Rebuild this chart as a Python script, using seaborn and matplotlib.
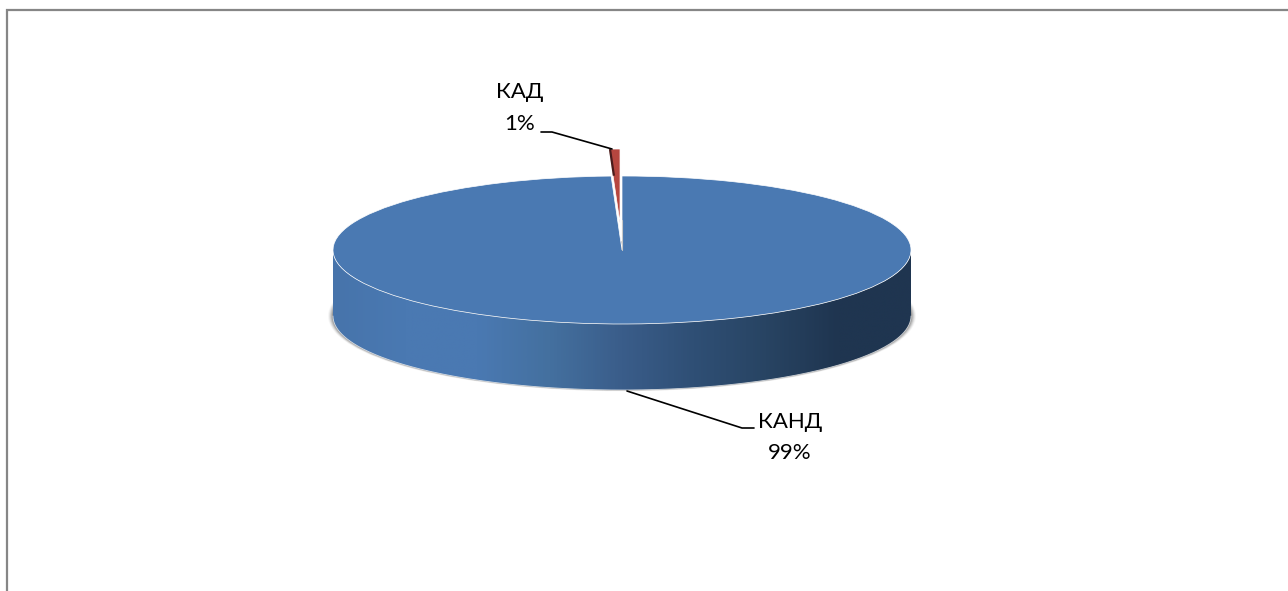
import numpy as np
import matplotlib
matplotlib.use("Agg")
import matplotlib.pyplot as plt
from matplotlib.patches import Ellipse, Polygon
import seaborn as sns

labels = ['КАД', 'КАНД']
shares = [0.6, 99.4]
percent_labels = ['1%', '99%']
slice_colors = ['#b6463f', '#4a79b2']
side_colors = ['#4774ab', '#4a79b2', '#4a79b2', '#44709f', '#3a5d8a', '#2f4f75', '#284463', '#1f3550', '#1f3550']

W, H = 1288, 591
CX, CY, RX, RY = 622, 250, 289, 74
DEPTH = 66

sns.set_theme(style="white")
plt.rcParams['font.family'] = ['Lato', 'Open Sans', 'DejaVu Sans']

fig = plt.figure(figsize=(W / 100, H / 100), dpi=100, facecolor='white')

# pixel coordinates for frame, shadow, labels
bg = fig.add_axes([0, 0, 1, 1])
bg.set_xlim(0, W)
bg.set_ylim(H, 0)
bg.axis('off')
bg.plot([6.7, 6.7, W], [H, 10, 10], color='#868686', lw=1.6, solid_joinstyle='miter')

# soft shadow under the disc
for grow, alpha in zip([5, 4, 3, 2, 1], [0.05, 0.1, 0.15, 0.2, 0.3]):
    bg.add_patch(Ellipse((CX, CY + DEPTH), 2 * (RX + grow), 2 * (RY + grow * 0.25),
                         facecolor='#555555', edgecolor='none', alpha=alpha))

# pie axes: unit circle squashed into the ellipse
ax = fig.add_axes([0, 0, 1, 1])
ax.patch.set_alpha(0)
wedges, _ = ax.pie(shares, colors=slice_colors, startangle=90, explode=(27 / RY, 0),
                   wedgeprops=dict(edgecolor='white', linewidth=0.5))

# side of the disc
t = np.linspace(np.pi, 2 * np.pi, 300)
d = DEPTH / RY
band = np.r_[np.c_[np.cos(t), np.sin(t)], np.c_[np.cos(t[::-1]), np.sin(t[::-1]) - d]]
clip = Polygon(band, closed=True, transform=ax.transData, facecolor='none', edgecolor='none')
ax.add_patch(clip)
side_cmap = sns.blend_palette(side_colors, n_colors=256, as_cmap=True)
im = ax.imshow(np.linspace(0, 1, 600)[None, :], extent=(-1, 1, -1 - d, 0), aspect='auto',
               cmap=side_cmap, zorder=0, interpolation='bilinear')
im.set_clip_path(clip)
ax.plot(np.cos(t), np.sin(t) - d, color='white', lw=0.6, alpha=0.7, zorder=2)

# dark cut face on the pulled out slice, grey edge of the gap
w = wedges[0]
a = np.deg2rad(w.theta2)
edge = np.array([np.cos(a), np.sin(a)])
face = np.array([w.center + edge * s for s in (1.0, 0.64)])
ax.plot(face[:, 0] + 0.003, face[:, 1], color='#4a1c1c', lw=1.6, zorder=3, solid_capstyle='butt')
ax.plot([0, 0], [0, 0.4], color='#c8c8c8', lw=0.8, zorder=3)

ax.set_xlim(-CX / RX, (W - CX) / RX)
ax.set_ylim((CY - H) / RY, CY / RY)

# overlay for labels and leader lines
fg = fig.add_axes([0, 0, 1, 1])
fg.set_xlim(0, W)
fg.set_ylim(H, 0)
fg.axis('off')
fg.patch.set_alpha(0)
fg.plot([541, 552, 612], [132, 132, 149], color='black', lw=1.2)
fg.plot([627, 742, 754], [391, 428, 428], color='black', lw=1.2)
fg.text(520, 92, labels[0], ha='center', va='center', fontsize=16, color='black')
fg.text(520, 124, percent_labels[0], ha='center', va='center', fontsize=16, color='black')
fg.text(790, 422, labels[1], ha='center', va='center', fontsize=16, color='black')
fg.text(790, 453, percent_labels[1], ha='center', va='center', fontsize=16, color='black')

fig.savefig('out.png', dpi=100)
